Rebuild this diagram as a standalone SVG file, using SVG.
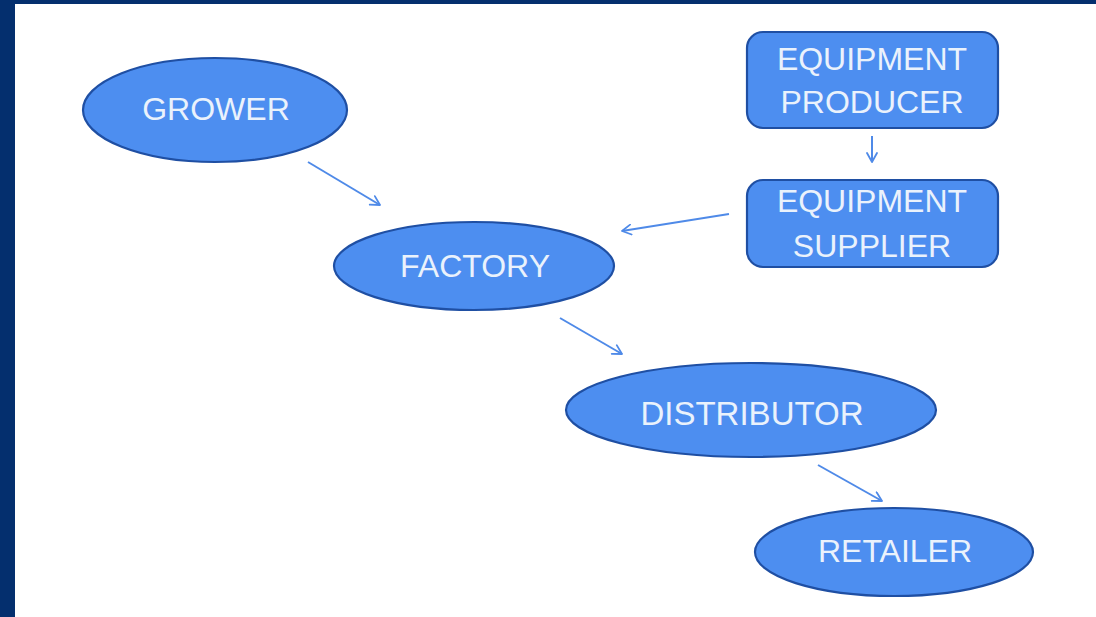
<svg xmlns="http://www.w3.org/2000/svg" width="1096" height="617" viewBox="0 0 1096 617">
<defs>
<marker id="arr" viewBox="0 0 12 12" refX="11" refY="6" markerWidth="12" markerHeight="12" markerUnits="userSpaceOnUse" orient="auto">
<polyline points="2,1 11,6 2,11" fill="none" stroke="#4f8ae8" stroke-width="1.8" stroke-linecap="round" stroke-linejoin="round"/>
</marker>
</defs>
<style>
.n{fill:#4d8ef0;stroke:#1f4fa3;stroke-width:2.2}
.t{font-family:"Liberation Sans",Arial,sans-serif;font-size:32px;fill:#eaf2fc;text-anchor:middle}
.c{stroke:#4f8ae8;stroke-width:2;fill:none;marker-end:url(#arr)}
</style>
<rect width="1096" height="617" fill="#ffffff"/>
<rect x="0" y="0" width="1096" height="4" fill="#042f6e"/>
<rect x="0" y="0" width="15" height="617" fill="#042f6e"/>
<g id="grower"><ellipse class="n" cx="215" cy="110" rx="132" ry="52"/><text class="t" x="216" y="120">GROWER</text></g>
<g id="factory"><ellipse class="n" cx="474" cy="266" rx="140" ry="44"/><text class="t" x="475" y="277">FACTORY</text></g>
<g id="distributor"><ellipse class="n" cx="751" cy="410" rx="185" ry="47"/><text class="t" x="752" y="425" style="font-size:33px">DISTRIBUTOR</text></g>
<g id="retailer"><ellipse class="n" cx="894" cy="552" rx="139" ry="44"/><text class="t" x="895" y="562">RETAILER</text></g>
<g id="producer"><rect class="n" x="747" y="32" width="251" height="96" rx="16"/><text class="t" x="872" y="70">EQUIPMENT</text><text class="t" x="872" y="113">PRODUCER</text></g>
<g id="supplier"><rect class="n" x="747" y="180" width="251" height="87" rx="16"/><text class="t" x="872" y="212">EQUIPMENT</text><text class="t" x="872" y="257">SUPPLIER</text></g>
<g id="connectors">
<line class="c" x1="308" y1="162" x2="380" y2="205"/>
<line class="c" x1="872" y1="136" x2="872" y2="162"/>
<line class="c" x1="729" y1="214" x2="622" y2="231"/>
<line class="c" x1="560" y1="318" x2="622" y2="354"/>
<line class="c" x1="818" y1="465" x2="882" y2="501"/>
</g>
</svg>
